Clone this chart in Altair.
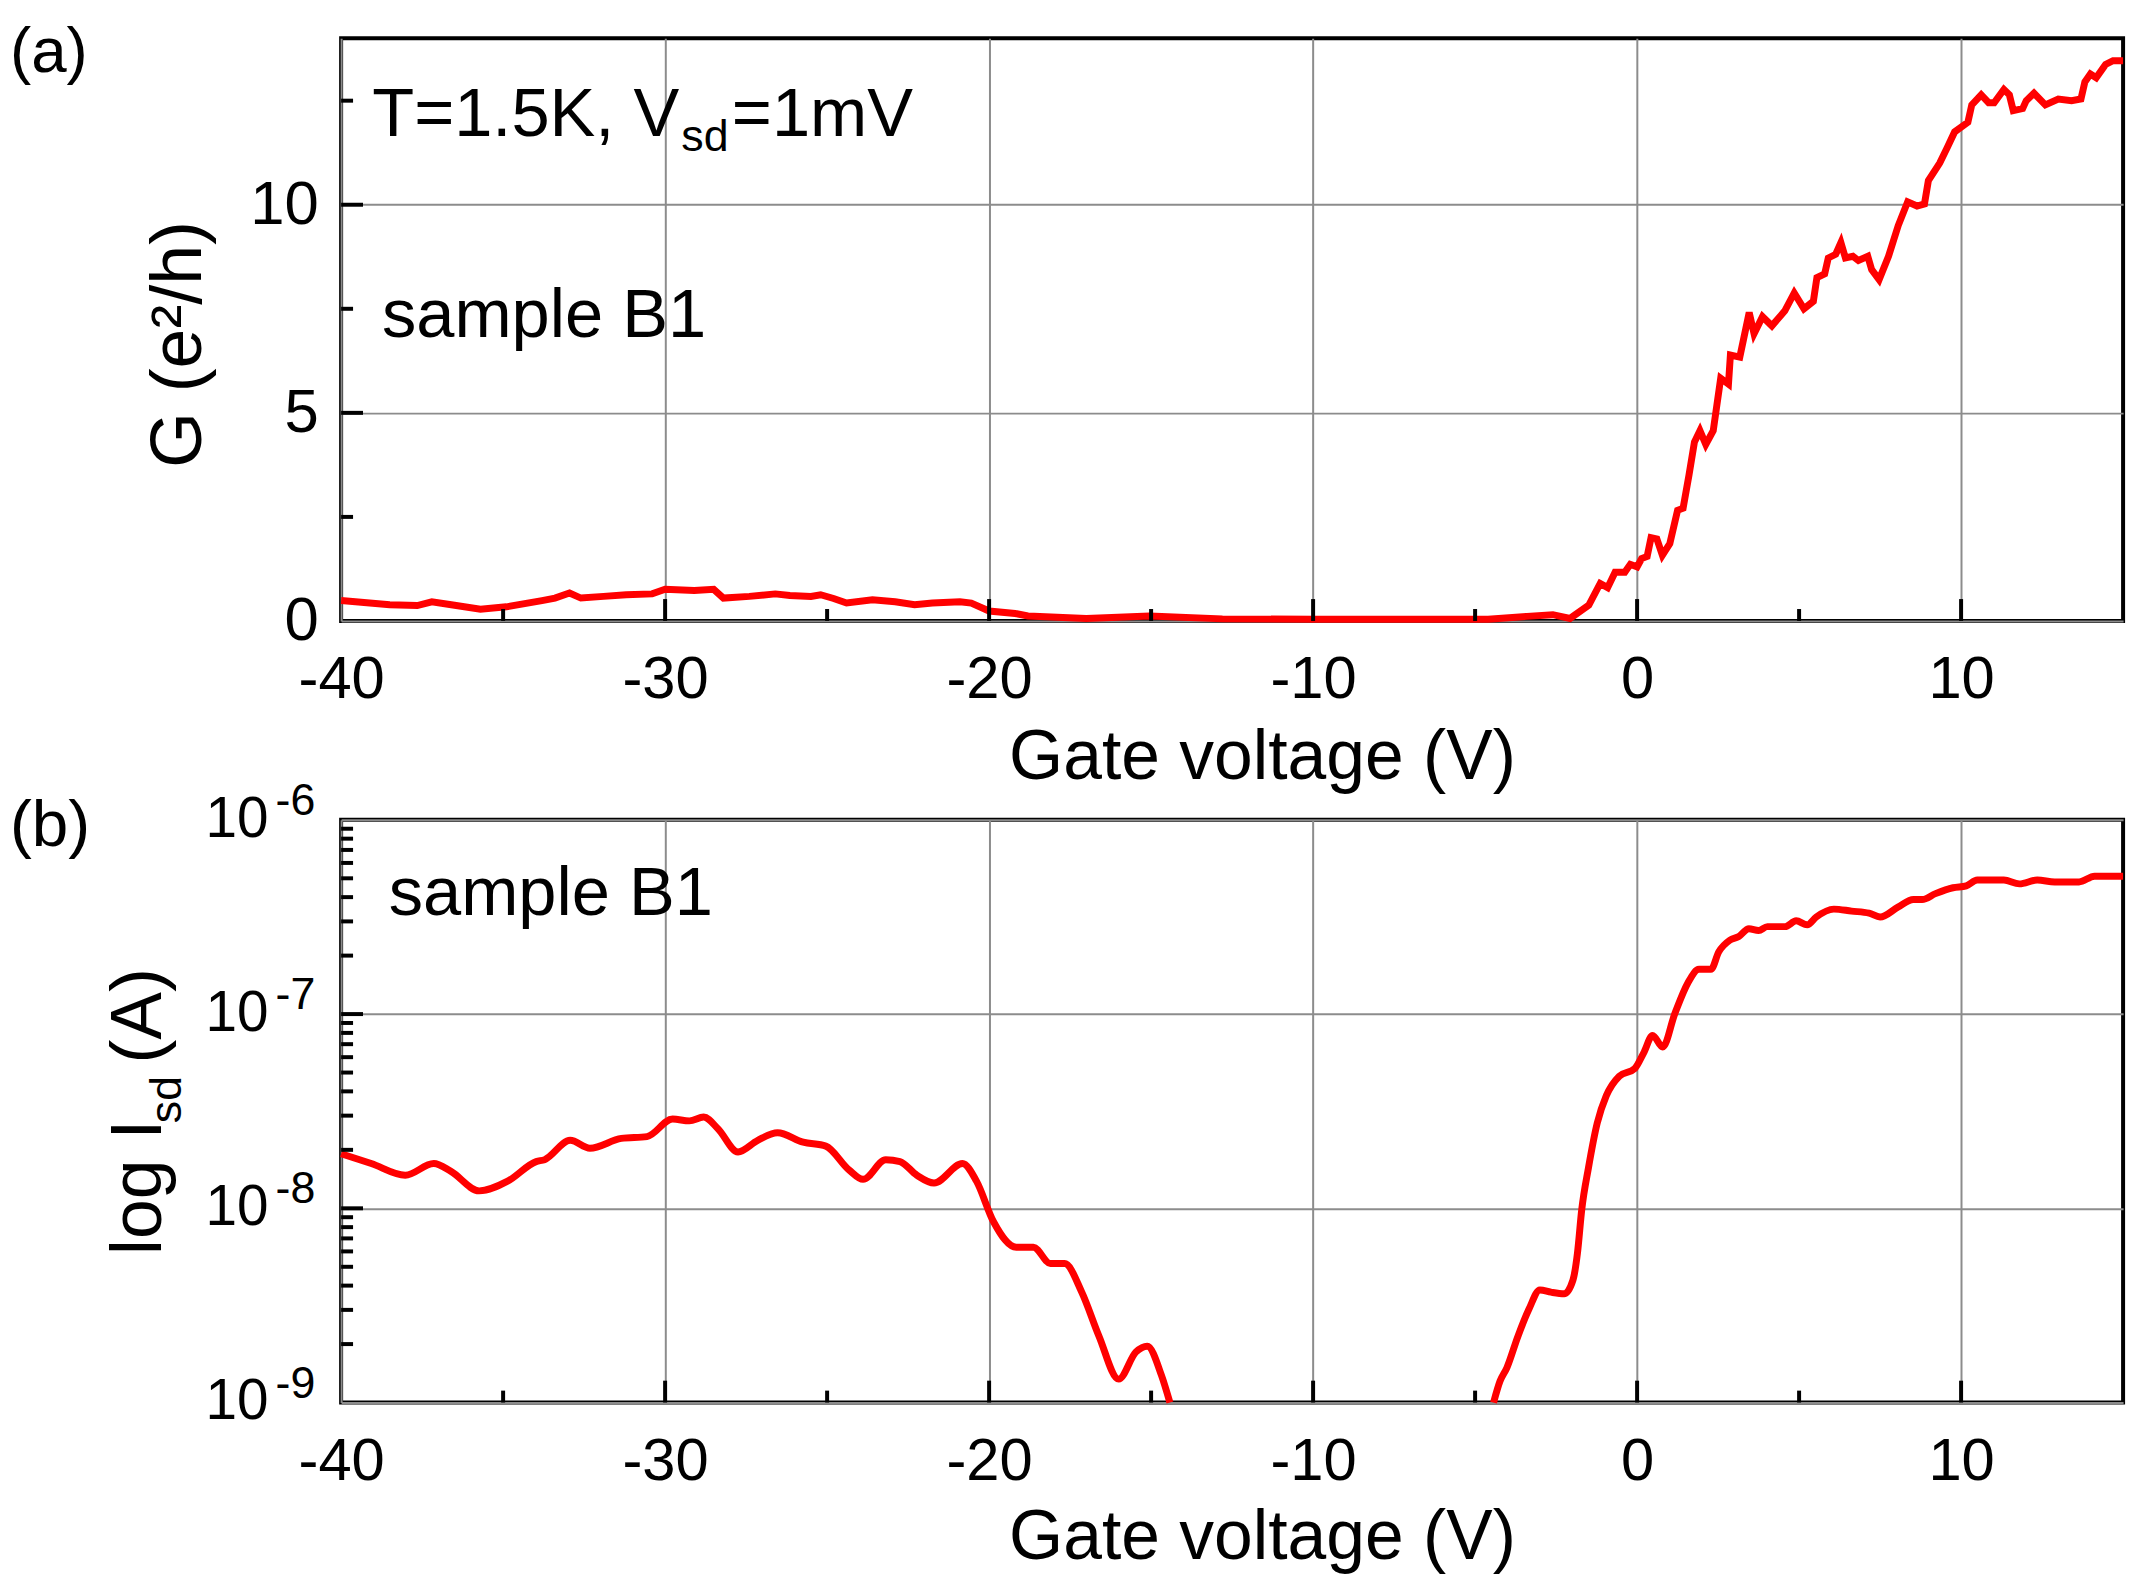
import altair as alt
import pandas as pd

# ---------------- data ----------------
# panel (a): conductance G (e^2/h) vs gate voltage (V)
V_A = [-40, -38.5, -37.65, -37.2, -36.6, -35.7, -34.9, -33.8, -33.4, -32.95,
       -32.6, -31.9, -31.2, -30.4, -30.0, -29.1, -28.5, -28.2, -27.4, -26.6,
       -26.15, -25.5, -25.2, -24.8, -24.4, -23.6, -22.9, -22.3, -21.75, -20.9,
       -20.55, -20.0, -19.2, -18.8, -17.9, -17.0, -15.05, -12.8, -10.0, -4.6,
       -3.4, -2.6, -2.07, -1.49, -1.14, -0.91, -0.68, -0.38, -0.21, 0.0,
       0.14, 0.31, 0.43, 0.61, 0.78, 1.01, 1.25, 1.42, 1.6, 1.77,
       1.94, 2.12, 2.35, 2.58, 2.82, 2.88, 3.17, 3.46, 3.61, 3.87,
       4.16, 4.56, 4.85, 5.15, 5.44, 5.55, 5.79, 5.9, 6.13, 6.29,
       6.43, 6.66, 6.83, 7.12, 7.24, 7.47, 7.76, 8.06, 8.35, 8.64,
       8.87, 8.99, 9.34, 9.57, 9.8, 10.21, 10.33, 10.62, 10.85, 11.02,
       11.32, 11.49, 11.61, 11.9, 12.01, 12.25, 12.6, 13.0, 13.41, 13.7,
       13.82, 13.99, 14.17, 14.46, 14.69, 15.0]
G_A = [0.49, 0.39, 0.37, 0.46, 0.39, 0.28, 0.34, 0.49, 0.55, 0.67,
       0.55, 0.59, 0.63, 0.65, 0.76, 0.73, 0.76, 0.55, 0.59, 0.65,
       0.61, 0.59, 0.63, 0.54, 0.43, 0.51, 0.46, 0.39, 0.43, 0.46,
       0.43, 0.24, 0.18, 0.12, 0.09, 0.06, 0.12, 0.05, 0.04, 0.04,
       0.11, 0.15, 0.06, 0.38, 0.9, 0.8, 1.17, 1.17, 1.36, 1.3,
       1.5, 1.55, 2.0, 1.97, 1.58, 1.86, 2.66, 2.71, 3.5, 4.3,
       4.57, 4.24, 4.57, 5.83, 5.69, 6.39, 6.34, 7.41, 6.9, 7.31,
       7.09, 7.45, 7.88, 7.5, 7.68, 8.25, 8.34, 8.72, 8.81, 9.09,
       8.72, 8.76, 8.66, 8.76, 8.44, 8.2, 8.76, 9.5, 10.07, 9.97,
       10.02, 10.58, 11.0, 11.37, 11.75, 11.98, 12.4, 12.64, 12.45, 12.45,
       12.77, 12.64, 12.26, 12.31, 12.5, 12.68, 12.4, 12.54, 12.5, 12.54,
       12.95, 13.14, 13.05, 13.37, 13.46, 13.46]

# panel (b): source-drain current (A), visible part left of the gap
V_B1 = [-40, -39.07, -38.02, -37.14, -36.61, -35.74, -34.86, -33.98, -33.72, -32.93,
        -32.32, -31.35, -30.56, -29.77, -29.25, -28.81, -28.37, -27.75, -27.14, -26.53,
        -25.74, -25.04, -24.33, -23.89, -23.19, -22.75, -22.23, -21.70, -20.82, -20.39,
        -19.86, -19.16, -18.63, -18.11, -17.67, -17.14, -16.61, -16.0, -15.47, -15.12,
        -14.68, -14.42]
I_B1 = [1.91e-8, 1.70e-8, 1.48e-8, 1.70e-8, 1.55e-8, 1.23e-8, 1.38e-8, 1.74e-8, 1.78e-8, 2.24e-8,
        2.04e-8, 2.29e-8, 2.34e-8, 2.88e-8, 2.82e-8, 2.95e-8, 2.57e-8, 1.95e-8, 2.24e-8, 2.45e-8,
        2.19e-8, 2.09e-8, 1.58e-8, 1.41e-8, 1.78e-8, 1.74e-8, 1.48e-8, 1.35e-8, 1.70e-8, 1.38e-8,
        8.5e-9, 6.3e-9, 6.3e-9, 5.2e-9, 5.2e-9, 3.7e-9, 2.2e-9, 1.32e-9, 1.82e-9, 1.95e-9,
        1.38e-9, 1.0e-9]
# panel (b): part right of the gap
V_B2 = [-4.43, -4.23, -4.02, -3.68, -3.34, -3.0, -2.66, -2.25, -1.98, -1.84,
        -1.71, -1.50, -1.23, -0.95, -0.55, -0.07, 0.20, 0.48, 0.79, 1.16,
        1.57, 1.91, 2.28, 2.52, 2.86, 3.14, 3.45, 3.75, 4.02, 4.57,
        4.91, 5.25, 5.53, 6.07, 6.62, 7.16, 7.5, 8.05, 8.53, 8.8,
        9.21, 9.75, 10.16, 10.5, 10.98, 11.32, 11.8, 12.35, 12.89, 13.64,
        14.12, 15.0]
I_B2 = [1.0e-9, 1.29e-9, 1.51e-9, 2.19e-9, 3.02e-9, 3.8e-9, 3.7e-9, 3.63e-9, 4.27e-9, 5.9e-9,
        9.8e-9, 1.62e-8, 2.75e-8, 3.8e-8, 4.79e-8, 5.25e-8, 6.3e-8, 7.76e-8, 6.76e-8, 1.0e-7,
        1.45e-7, 1.70e-7, 1.70e-7, 2.09e-7, 2.40e-7, 2.51e-7, 2.75e-7, 2.69e-7, 2.82e-7, 2.82e-7,
        3.02e-7, 2.88e-7, 3.16e-7, 3.47e-7, 3.39e-7, 3.31e-7, 3.16e-7, 3.55e-7, 3.89e-7, 3.89e-7,
        4.17e-7, 4.47e-7, 4.57e-7, 4.9e-7, 4.9e-7, 4.9e-7, 4.68e-7, 4.9e-7, 4.79e-7, 4.79e-7,
        5.13e-7, 5.13e-7]

# axis ticks / labels
X_MAJOR = [-40, -30, -20, -10, 0, 10]
X_MINOR = [-35, -25, -15, -5, 5, 15]
G_MAJOR = [0, 5, 10]
G_MINOR = [2.5, 7.5, 12.5]
I_DECADES = [1e-9, 1e-8, 1e-7, 1e-6]
I_EXPONENTS = ["-9", "-8", "-7", "-6"]
I_MINOR_MULT = [2, 3, 4, 5, 6, 7, 8, 9]

# ---------------- style ----------------
FONT = "Liberation Sans"
W, H = 1792, 586
RED = "#ff0000"
GRID = "#8c8c8c"

xs = alt.Scale(domain=[-40, 15], nice=False, zero=False)


def xaxis(title_y):
    return alt.Axis(values=X_MAJOR, grid=True, gridColor=GRID, gridWidth=2,
                    ticks=False, domain=False, labelFlush=False, labelOverlap=False,
                    labelExpr="'' + datum.value", labelFont=FONT, labelFontSize=60,
                    labelColor="black", labelPadding=77, labelBaseline="alphabetic",
                    title="Gate voltage (V)", titleFont=FONT, titleFontSize=70,
                    titleFontWeight="normal", titleColor="black",
                    titleX=926, titleY=title_y, titleBaseline="alphabetic",
                    titleAlign="center")


def xticks(vals, length):
    return alt.Chart(pd.DataFrame({"V": vals})).mark_rule(
        color="black", strokeWidth=4).encode(
        x=alt.X("V:Q"), y=alt.value(H), y2=alt.value(H - length))


def yticks(field, vals, length):
    return alt.Chart(pd.DataFrame({field: vals})).mark_rule(
        color="black", strokeWidth=4).encode(
        y=alt.Y(f"{field}:Q"), x=alt.value(0), x2=alt.value(length))


def data_text(txt, v, yfield, yval, size):
    return alt.Chart(pd.DataFrame({"V": [v], yfield: [yval], "t": [txt]})).mark_text(
        align="left", baseline="alphabetic", font=FONT, fontSize=size, color="black").encode(
        x=alt.X("V:Q"), y=alt.Y(f"{yfield}:Q"), text="t:N")


def px_text(txt, px, py, size, angle=0, align="left"):
    kw = dict(align=align, baseline="alphabetic", font=FONT, fontSize=size, color="black")
    if angle:
        kw["angle"] = angle
    return alt.Chart(pd.DataFrame({"t": [txt]})).mark_text(**kw).encode(
        x=alt.value(px), y=alt.value(py), text="t:N")


# ---------------- panel (a) ----------------
dfa = pd.DataFrame({"V": V_A, "G": G_A})
line_a = alt.Chart(dfa).mark_line(color=RED, strokeWidth=7).encode(
    x=alt.X("V:Q", scale=xs, axis=xaxis(158)),
    y=alt.Y("G:Q", scale=alt.Scale(domain=[0, 14], nice=False, zero=False),
            axis=alt.Axis(values=G_MAJOR, grid=True, gridColor=GRID, gridWidth=2,
                          ticks=False, domain=False, labelFont=FONT, labelFontSize=62,
                          labelColor="black", labelPadding=23, labelFlush=False,
                          title=None)))

panel_a = alt.layer(
    line_a,
    xticks(X_MAJOR[1:], 22), xticks(X_MINOR[:-1], 12),
    yticks("G", G_MAJOR[1:], 22), yticks("G", G_MINOR, 12),
    data_text("T=1.5K, V", -39.04, "G", 11.65, 69),
    data_text("sd", -29.5, "G", 11.28, 45),
    data_text("=1mV", -27.94, "G", 11.65, 69),
    data_text("sample B1", -38.74, "G", 6.83, 69),
    px_text("(a)", -333, 34, 64),
    px_text("G (e²/h)", -141, 308, 72, angle=270, align="center"),
).properties(width=W, height=H)

# ---------------- panel (b) ----------------
dfb = pd.concat([
    pd.DataFrame({"V": V_B1, "I": I_B1, "seg": "left"}),
    pd.DataFrame({"V": V_B2, "I": I_B2, "seg": "right"}),
])
line_b = alt.Chart(dfb).mark_line(color=RED, strokeWidth=7, interpolate="monotone").encode(
    x=alt.X("V:Q", scale=xs, axis=xaxis(157)),
    y=alt.Y("I:Q", scale=alt.Scale(type="log", domain=[1e-9, 1e-6], nice=False),
            axis=alt.Axis(values=I_DECADES, grid=True, gridColor=GRID, gridWidth=2,
                          ticks=False, domain=False, labels=False, title=None)),
    detail="seg:N")

minor_I = [m * d for d in I_DECADES[:-1] for m in I_MINOR_MULT]
dec = pd.DataFrame({"I": I_DECADES, "e": I_EXPONENTS})
base_lbl = alt.Chart(dec).mark_text(align="right", baseline="middle", font=FONT,
                                    fontSize=57, color="black").encode(
    y=alt.Y("I:Q"), x=alt.value(-73), text=alt.value("10"))
exp_lbl = alt.Chart(dec).mark_text(align="left", baseline="middle", font=FONT,
                                   fontSize=45, dy=-19, color="black").encode(
    y=alt.Y("I:Q"), x=alt.value(-66), text="e:N")

panel_b = alt.layer(
    line_b,
    xticks(X_MAJOR[1:], 22), xticks(X_MINOR[:-1], 12),
    yticks("I", I_DECADES[1:-1], 22), yticks("I", minor_I, 12),
    base_lbl, exp_lbl,
    data_text("sample B1", -38.53, "I", 3.24e-7, 69),
    px_text("(b)", -333, 26, 66),
    px_text("log I", -181, 437.6, 72, angle=270),
    px_text("sd", -161, 305, 45, angle=270),
    px_text("(A)", -181, 245, 72, angle=270),
).properties(width=W, height=H)

chart = alt.vconcat(panel_a, panel_b, spacing=-17).properties(
    padding={"left": 0, "top": 7, "right": 0, "bottom": -4},
    background="white",
).configure_view(stroke="black", strokeWidth=4)

chart.save("out.html", embed_options={"renderer": "svg", "actions": False})
